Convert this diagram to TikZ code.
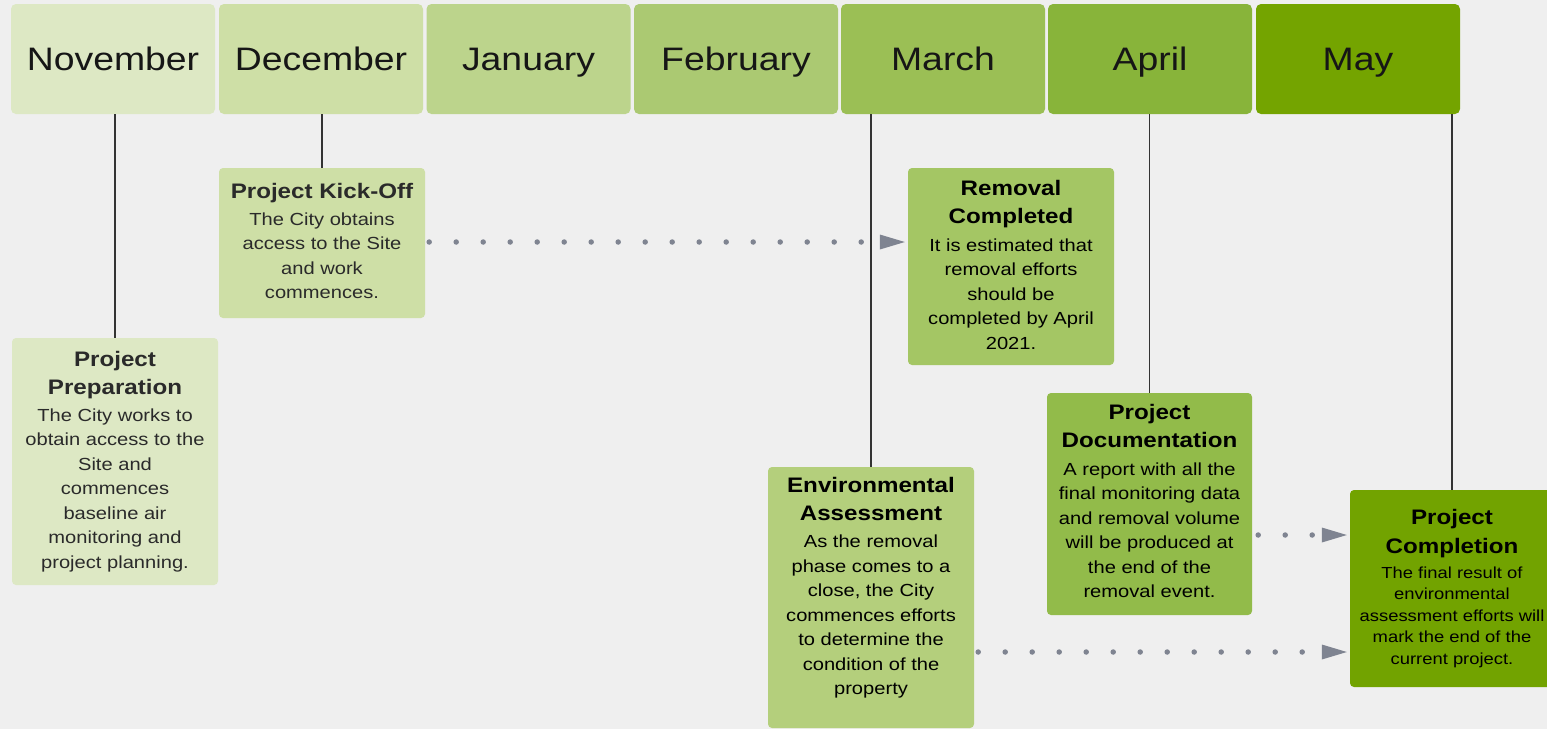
\documentclass[tikz,border=0pt]{standalone}
\usepackage{fontspec}
\setmainfont{Liberation Sans}[FakeStretch=1.15]
\usetikzlibrary{arrows.meta}
\definecolor{bg}{HTML}{EFEFEF}
\definecolor{cnov}{HTML}{DDE8C4}
\definecolor{cdec}{HTML}{CEDFA6}
\definecolor{cjan}{HTML}{BCD48C}
\definecolor{cfeb}{HTML}{ABC972}
\definecolor{cmar}{HTML}{9BBF55}
\definecolor{capr}{HTML}{88B43A}
\definecolor{cmay}{HTML}{74A400}
\definecolor{crem}{HTML}{A4C664}
\definecolor{cenv}{HTML}{B4CF7C}
\definecolor{cdoc}{HTML}{92BB4A}
\definecolor{ccomp}{HTML}{72A300}
\definecolor{hdr}{HTML}{161616}
\definecolor{bodyc}{HTML}{2A2A2A}
\definecolor{linec}{HTML}{333333}
\definecolor{arrc}{HTML}{7F8491}
\newcommand{\ttl}{\fontsize{21}{26}\selectfont\bfseries}
\tikzset{
  month/.style={fill=#1, rounded corners=5pt, minimum width=204pt, minimum height=110pt,
    inner sep=0pt, text height=28pt, text depth=6pt,
    font=\fontsize{32.5}{39}\selectfont, text=hdr},
  evbox/.style={fill=#1, rounded corners=4pt, inner sep=0pt},
  evtext/.style={inner sep=0pt, align=center, font=\fontsize{17.5}{24.5}\selectfont, text=bodyc},
  tline/.style={draw=linec, line width=1.8pt},
  dotarrow/.style={draw=arrc, line width=5.5pt, line cap=round, dash pattern=on 0pt off 27pt,
    -{Triangle[length=25pt,width=15pt,line width=0pt]}, shorten >=3pt}
}
\begin{document}
\begin{tikzpicture}[x=1pt,y=-1pt]
\useasboundingbox (0,0) rectangle (1547,729);
\clip (0,0) rectangle (1547,729);
\fill[bg] (0,0) rectangle (1547,729);

% month headers
\node[month=cnov] (nov) at (113,59) {November};
\node[month=cdec] (dec) at (321,59) {December};
\node[month=cjan] (jan) at (528.5,59) {January};
\node[month=cfeb] (feb) at (736,59) {February};
\node[month=cmar] (mar) at (943,59) {March};
\node[month=capr] (apr) at (1150,59) {April};
\node[month=cmay] (may) at (1358,59) {May};

% event boxes
\node[evbox=cnov, minimum width=206pt, minimum height=247pt] (prep) at (115,461.5) {};
\node[evbox=cdec, minimum width=206pt, minimum height=150pt] (kick) at (322,243) {};
\node[evbox=crem, minimum width=206pt, minimum height=197pt] (rem) at (1011,266.5) {};
\node[evbox=cenv, minimum width=206pt, minimum height=261pt] (env) at (871,597.5) {};
\node[evbox=cdoc, minimum width=205pt, minimum height=222pt] (doc) at (1149.5,504) {};
\node[evbox=ccomp, minimum width=204pt, minimum height=197pt] (comp) at (1452,588.5) {};

% event texts
\node[evtext] (prept) at (prep.center)
  {\ttl Project\\[3.5pt]\ttl Preparation\\[2.5pt]The City works to\\obtain access to the\\Site and\\commences\\baseline air\\monitoring and\\project planning.};
\node[evtext] (kickt) at ([yshift=2pt]kick.center)
  {\ttl Project Kick-Off\\[2pt]The City obtains\\access to the Site\\and work\\commences.};
\node[evtext, text=black] (remt) at ([yshift=2pt]rem.center)
  {\ttl Removal\\[3.5pt]\ttl Completed\\[3.5pt]It is estimated that\\removal efforts\\should be\\completed by April\\2021.};
\node[evtext, text=black] (envt) at ([yshift=10pt]env.center)
  {\ttl Environmental\\[3.5pt]\ttl Assessment\\[3pt]As the removal\\phase comes to a\\close, the City\\commences efforts\\to determine the\\condition of the\\property};
\node[evtext, text=black] (doct) at ([yshift=3pt]doc.center)
  {\ttl Project\\[3.5pt]\ttl Documentation\\[3pt]A report with all the\\final monitoring data\\and removal volume\\will be produced at\\the end of the\\removal event.};
\node[evtext, text=black, font=\fontsize{16}{21.5}\selectfont] (compt) at ([yshift=0pt]comp.center)
  {\ttl Project\\[7.5pt]\ttl Completion\\[3.5pt]The final result of\\environmental\\assessment efforts will\\mark the end of the\\current project.};

% timeline connectors
\draw[tline] (prep.north |- nov.south) -- (prep.north);
\draw[tline] (kick.north |- dec.south) -- (kick.north);
\draw[tline] (env.north |- mar.south) -- (env.north);
\draw[tline] (doc.north |- apr.south) -- (doc.north);
\draw[tline] (comp.north |- may.south) -- (comp.north);

% dotted arrows
\coordinate (a1) at ([xshift=4pt,yshift=1pt]kick.east);
\draw[dotarrow] (a1) -- (a1 -| rem.west);
\coordinate (a2) at ([xshift=6pt,yshift=-31pt]doc.east);
\draw[dotarrow] (a2) -- (a2 -| comp.west);
\coordinate (a3) at ([xshift=4pt,yshift=-54.5pt]env.east);
\draw[dotarrow] (a3) -- (a3 -| comp.west);
\end{tikzpicture}
\end{document}
